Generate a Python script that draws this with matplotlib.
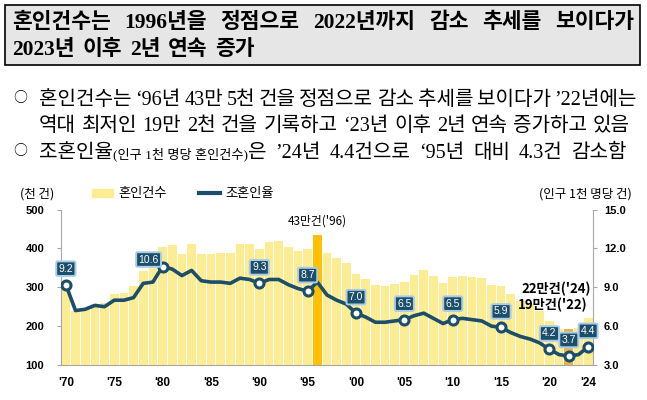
import matplotlib
matplotlib.use("Agg")
import matplotlib.pyplot as plt
from matplotlib.patches import Rectangle, Patch
from matplotlib.lines import Line2D

years = list(range(1970, 2025))
marriages = [295, 240, 245, 257, 260, 283, 285, 302, 343, 351,
             403, 409, 386, 411, 385, 385, 388, 388, 410, 412,
             399, 417, 420, 403, 393, 398, 435, 389, 376, 363,
             334, 320, 306, 304, 309, 314, 331, 344, 328, 310,
             326, 329, 327, 323, 306, 303, 282, 264, 258, 239,
             214, 193, 192, 194, 222]
rates = [9.2, 7.2, 7.3, 7.6, 7.5, 8.0, 8.0, 8.2, 9.3, 9.4,
         10.6, 10.4, 9.9, 10.3, 9.5, 9.4, 9.4, 9.3, 9.7, 9.6,
         9.3, 9.6, 9.6, 9.2, 8.9, 8.7, 9.4, 8.4, 8.0, 7.7,
         7.0, 6.7, 6.3, 6.3, 6.4, 6.5, 6.8, 7.0, 6.6, 6.2,
         6.5, 6.6, 6.5, 6.4, 6.0, 5.9, 5.5, 5.2, 5.0, 4.7,
         4.2, 3.8, 3.7, 3.8, 4.4]
label_years = [1970, 1980, 1990, 1995, 2000, 2005, 2010, 2015, 2020, 2022, 2024]
highlight = {1996: "#FFC000", 2022: "#EDB34A"}
xtick_years = [1970, 1975, 1980, 1985, 1990, 1995, 2000, 2005, 2010, 2015, 2020, 2024]
xtick_labels = ["'70", "'75", "'80", "'85", "'90", "'95", "'00", "'05", "'10", "'15", "'20", "'24"]

W, H = 647, 400
BAR = "#FCEC93"
LINE = "#1C4E69"
KR = ["Noto Sans CJK KR", "DejaVu Sans"]
SERIF_KR = ["Liberation Serif", "Noto Sans CJK KR", "DejaVu Sans"]

fig = plt.figure(figsize=(W / 100, H / 100), dpi=100)
renderer = fig.canvas.get_renderer()

def fx(px): return px / W
def fy(py): return 1 - py / H

# title box
fig.patches.append(Rectangle((fx(5), fy(65)), fx(635), 60 / H, transform=fig.transFigure,
                             facecolor="#E6E6E6", edgecolor="black", lw=1.2))

def put_line(words, x0, x1, y, size, family, weight="normal"):
    # place words so that the line runs from x0 to x1 (justified like the source)
    groups, widths = [], []
    for word in words:
        if isinstance(word, str):
            word = [(word, size)]
        objs, w = [], 0
        for txt, sz in word:
            t = fig.text(0, fy(y), txt, fontsize=sz, family=family,
                         weight=weight, va="baseline", ha="left")
            tw = t.get_window_extent(renderer).width
            objs.append((t, tw)); w += tw
        groups.append(objs); widths.append(w)
    gap = (x1 - x0 - sum(widths)) / (len(groups) - 1)
    x = x0
    for objs in groups:
        for t, tw in objs:
            t.set_x(fx(x)); x += tw
        x += gap

put_line("혼인건수는 1996년을 정점으로 2022년까지 감소 추세를 보이다가".split(), 12, 634, 28, 15.5, SERIF_KR, "bold")
put_line("2023년 이후 2년 연속 증가".split(), 12, 255, 55, 15.5, SERIF_KR, "bold")

for yb in (98, 151):
    fig.text(fx(20), fy(yb), "○", fontsize=10, family=KR, va="center", ha="center")
put_line("혼인건수는 ‘96년 43만 5천 건을 정점으로 감소 추세를 보이다가 ’22년에는".split(), 39, 637, 105, 14.5, SERIF_KR)
put_line("역대 최저인 19만 2천 건을 기록하고 ‘23년 이후 2년 연속 증가하고 있음".split(), 39, 630, 131, 14.5, SERIF_KR)
line3 = [[("조혼인율", 14.5), ("(인구 1천 명당 혼인건수)", 9.5), ("은", 14.5)],
         "’24년", "4.4건으로", "‘95년", "대비", "4.3건", "감소함"]
put_line(line3, 39, 627, 158, 14.5, SERIF_KR)

# chart
ax = fig.add_axes([fx(61), fy(365), (593 - 61) / W, (365 - 209.5) / H])
colors = [highlight.get(y, BAR) for y in years]
ax.bar(years, marriages, width=0.9, color=colors, edgecolor="none", zorder=2)
ax.set_xlim(1969.5, 2024.5)
ax.set_ylim(100, 500)
ax.set_yticks([100, 200, 300, 400, 500])
ax.set_xticks(xtick_years)
ax.set_xticklabels(xtick_labels)
for s in ["top", "right"]:
    ax.spines[s].set_visible(False)
for s in ["left", "bottom"]:
    ax.spines[s].set_color("#A6A6A6")
ax.tick_params(axis="y", length=3, color="#A6A6A6", pad=9, labelsize=8)
ax.tick_params(axis="x", length=0, pad=9, labelsize=8.5)
for lab in ax.get_xticklabels() + ax.get_yticklabels():
    lab.set_fontweight("bold")
    lab.set_family(["Liberation Sans", "DejaVu Sans"])

ax2 = ax.twinx()
ax2.set_ylim(3, 15)
ax2.set_yticks([3, 6, 9, 12, 15])
ax2.set_yticklabels(["3.0", "6.0", "9.0", "12.0", "15.0"])
for s in ["top", "left", "bottom"]:
    ax2.spines[s].set_visible(False)
ax2.spines["right"].set_color("#A6A6A6")
ax2.tick_params(axis="y", length=3, color="#A6A6A6", pad=5, labelsize=8)
for lab in ax2.get_yticklabels():
    lab.set_fontweight("bold")
    lab.set_family(["Liberation Sans", "DejaVu Sans"])

ax2.plot(years, rates, color=LINE, lw=2.6, solid_joinstyle="round", solid_capstyle="round", zorder=3)
lx = [y for y in years if y in label_years]
ly = [r for y, r in zip(years, rates) if y in label_years]
ax2.plot(lx, ly, "o", ms=6.5, mfc="white", mec=LINE, mew=2.2, zorder=4)
for yr, r in zip(lx, ly):
    dx, dy = (-14, 7) if yr == 1980 else (0, 16)
    ax2.annotate(f"{r:.1f}", (yr, r), xytext=(dx, dy), textcoords="offset pixels",
                 ha="center", va="center", color="white", fontsize=7.5,
                 family=["Liberation Sans", "DejaVu Sans"],
                 bbox=dict(boxstyle="round,pad=0.22,rounding_size=0.15", fc=LINE, ec="#A8CBEA", lw=1.4),
                 zorder=5)

ax.annotate("43만건('96)", (1996, 435), xytext=(0, 14), textcoords="offset pixels",
            ha="center", va="center", fontsize=8.5, family=KR)
ax.text(0.997, 0.49, "22만건('24)", transform=ax.transAxes, ha="right", va="center",
        fontsize=9.5, family=KR, weight="bold")
ax.text(0.99, 0.385, "19만건('22)", transform=ax.transAxes, ha="right", va="center",
        fontsize=9.5, family=KR, weight="bold")

fig.text(fx(37), fy(194), "(천 건)", ha="center", va="center", fontsize=9, family=KR)
fig.text(fx(632), fy(194), "(인구 1천 명당 건)", ha="right", va="center", fontsize=9, family=KR)
fig.legend(handles=[Patch(color=BAR), Line2D([], [], color=LINE, lw=3)],
           labels=["혼인건수", "조혼인율"], ncol=2, loc="center",
           bbox_to_anchor=(fx(183), fy(194)), frameon=False,
           prop={"family": KR, "size": 9.5}, handlelength=1.6, handleheight=0.6,
           columnspacing=2.4, handletextpad=0.4)

fig.savefig("out.png", dpi=100)
